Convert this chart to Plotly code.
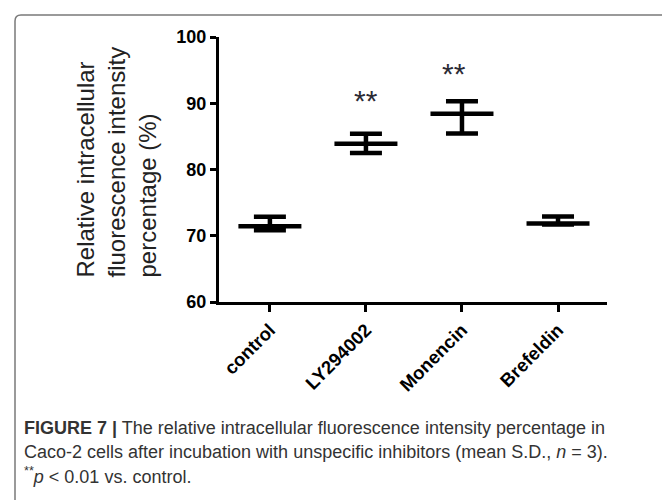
import plotly.graph_objects as go

# ---- data ----
categories = ["control", "LY294002", "Monencin", "Brefeldin"]
means = [71.45, 83.9, 88.4, 71.85]
err_plus = [1.4, 1.5, 1.9, 1.05]
err_minus = [0.63, 1.4, 2.95, 0.15]
sig_categories = ["LY294002", "Monencin"]
sig_y = [91.6, 95.7]
sig_text = ["**", "**"]
y_ticks = [60, 70, 80, 90, 100]

# ---- layout geometry (pixels) ----
# the page body has an 8px margin, so the figure is drawn 8px in and down
OFF = 8
W, H = 670 - OFF, 500 - OFF
L, R, T, B = 219 - OFF, 63, 37 - OFF, 198
PW, PH = W - L - R, H - T - B


def px_x(px):
    """reference-screen x pixel -> paper coordinate"""
    return (px - OFF - L) / PW


def px_y(py):
    """reference-screen y pixel -> paper coordinate"""
    return (H - B - (py - OFF)) / PH


fig = go.Figure()

fig.add_trace(go.Scatter(
    x=categories,
    y=means,
    mode="markers",
    marker=dict(symbol="line-ew", size=45, color="black",
                line=dict(color="black", width=4.5)),
    error_y=dict(type="data", symmetric=False, array=err_plus,
                 arrayminus=err_minus, color="black", thickness=4.5,
                 width=16),
    showlegend=False,
    hoverinfo="skip",
))

annotations = []
for cat, yv, txt, xs in zip(sig_categories, sig_y, sig_text, [0, -8]):
    annotations.append(dict(
        x=cat, y=yv, xref="x", yref="y", text=txt, showarrow=False,
        xanchor="center", yanchor="middle", xshift=xs, yshift=-8,
        font=dict(family="Liberation Sans, Arial", size=30, color="#2b2b35"),
    ))

# y-axis title (three lines, left aligned)
annotations.append(dict(
    x=px_x(116), y=px_y(280), xref="paper", yref="paper",
    text="Relative intracellular<br>fluorescence intensity<br>percentage (%)",
    showarrow=False, textangle=-90, align="left",
    xanchor="center", yanchor="bottom",
    font=dict(family="Liberation Sans, Arial", size=24, color="#222222"),
))

cap_font = dict(family="Liberation Sans, Arial", size=18, color="#333333")
caption_lines = [
    "<b>FIGURE 7 |</b> The relative intracellular fluorescence intensity percentage in",
    "Caco-2 cells after incubation with unspecific inhibitors (mean S.D., <i>n</i> = 3).",
    "<sup>**</sup><i>p</i> &lt; 0.01 vs. control.",
]
for line, py in zip(caption_lines, [428, 452, 476]):
    annotations.append(dict(
        x=px_x(22), y=px_y(py), xref="paper", yref="paper", text=line,
        showarrow=False, xanchor="left", yanchor="middle", align="left",
        font=cap_font,
    ))

# rounded frame around the figure
x0, x1 = px_x(15), px_x(668)
y0, y1 = px_y(15), px_y(520)
rx, ry = 6 / PW, 6 / PH
frame_path = (
    f"M {x0},{y1} L {x0},{y0 - ry} Q {x0},{y0} {x0 + rx},{y0} "
    f"L {x1 - rx},{y0} Q {x1},{y0} {x1},{y0 - ry} L {x1},{y1}"
)

fig.update_layout(
    width=W, height=H,
    margin=dict(l=L, r=R, t=T, b=B, autoexpand=False),
    paper_bgcolor="white", plot_bgcolor="white",
    annotations=annotations,
    shapes=[dict(type="path", path=frame_path, xref="paper", yref="paper",
                 line=dict(color="#7a7a7a", width=1.5), layer="below")],
    xaxis=dict(
        range=[-0.53, 3.51], showgrid=False, zeroline=False, automargin=False,
        showline=True, linecolor="black", linewidth=3,
        ticks="outside", ticklen=7, tickwidth=2.5, tickcolor="black",
        tickangle=-45,
        tickfont=dict(family="Liberation Sans, Arial", size=18.5,
                      color="black", weight="bold"),
    ),
    yaxis=dict(
        range=[60, 100], tickvals=y_ticks, showgrid=False, zeroline=False,
        automargin=False,
        showline=True, linecolor="black", linewidth=3,
        ticks="outside", ticklen=6, tickwidth=2.5, tickcolor="black",
        tickfont=dict(family="Liberation Sans, Arial", size=18,
                      color="black", weight="bold"),
    ),
)

fig.write_html("out.html")
